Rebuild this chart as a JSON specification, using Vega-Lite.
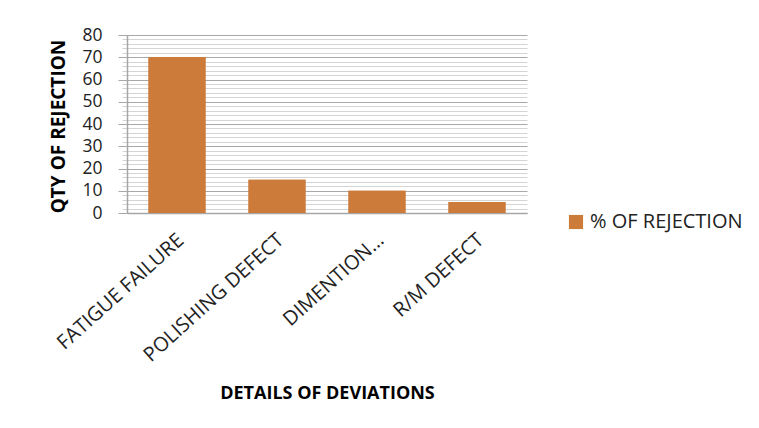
{
  "$schema": "https://vega.github.io/schema/vega-lite/v6.json",
  "width": 400,
  "height": 178,
  "autosize": {"type": "none"},
  "padding": {"left": 127, "top": 35, "right": 232, "bottom": 215},
  "background": "white",
  "config": {
    "view": {"stroke": null},
    "font": "Open Sans"
  },
  "data": {
    "values": [
      {"deviation": "FATIGUE FAILURE", "qty": 70, "series": "% OF REJECTION"},
      {"deviation": "POLISHING DEFECT", "qty": 15, "series": "% OF REJECTION"},
      {"deviation": "DIMENTION…", "qty": 10, "series": "% OF REJECTION"},
      {"deviation": "R/M DEFECT", "qty": 5, "series": "% OF REJECTION"}
    ]
  },
  "resolve": {"axis": {"y": "independent"}},
  "encoding": {
    "x": {
      "field": "deviation",
      "type": "nominal",
      "sort": null,
      "scale": {"paddingInner": 0.43, "paddingOuter": 0.215},
      "axis": {
        "title": "DETAILS OF DEVIATIONS",
        "titleFont": "Open Sans",
        "titleFontWeight": "bold",
        "titleFontSize": 18,
        "titleColor": "#000000",
        "titleX": 200,
        "titleY": 180,
        "titleBaseline": "middle",
        "labelAngle": -42,
        "labelAlign": "right",
        "labelBaseline": "middle",
        "labelFontSize": 20,
        "labelColor": "#222222",
        "labelPadding": 24,
        "labelOffset": 4,
        "labelLimit": 300,
        "ticks": false,
        "domainColor": "#a6a6a6",
        "domainWidth": 1.5
      }
    }
  },
  "layer": [
    {
      "mark": {"type": "bar", "color": "#CC7B3A"},
      "encoding": {
        "y": {
          "field": "qty",
          "type": "quantitative",
          "scale": {"domain": [0, 80], "nice": false},
          "axis": {
            "orient": "left",
            "title": null,
            "values": [2,4,6,8,12,14,16,18,22,24,26,28,32,34,36,38,42,44,46,48,52,54,56,58,62,64,66,68,72,74,76,78],
            "labels": false,
            "grid": true,
            "gridColor": "#d4d4d4",
            "tickColor": "#d4d4d4",
            "tickSize": 5,
            "domain": false
          }
        }
      }
    },
    {
      "mark": {"type": "bar"},
      "encoding": {
        "y": {
          "field": "qty",
          "type": "quantitative",
          "scale": {"domain": [0, 80], "nice": false},
          "axis": {
            "orient": "left",
            "title": "QTY OF REJECTION",
            "titleFontWeight": "bold",
            "titleFontSize": 19,
            "titleColor": "#000000",
            "titleAngle": -90,
            "titleX": -69,
            "titleY": 91,
            "titleAlign": "center",
            "titleBaseline": "middle",
            "values": [0, 10, 20, 30, 40, 50, 60, 70, 80],
            "labelFontSize": 17.5,
            "labelColor": "#222222",
            "labelPadding": 16,
            "grid": true,
            "gridColor": "#a8a8a8",
            "tickColor": "#a8a8a8",
            "tickSize": 9,
            "domainColor": "#a6a6a6",
            "domainWidth": 1.5
          }
        },
        "color": {
          "field": "series",
          "type": "nominal",
          "scale": {"range": ["#CC7B3A"]},
          "legend": {
            "title": null,
            "orient": "none",
            "legendX": 439,
            "legendY": 177,
            "symbolType": "square",
            "symbolSize": 200,
            "symbolStrokeWidth": 0,
            "symbolOpacity": 1,
            "labelFontSize": 20,
            "labelColor": "#222222",
            "labelOffset": 4
          }
        }
      }
    }
  ]
}
